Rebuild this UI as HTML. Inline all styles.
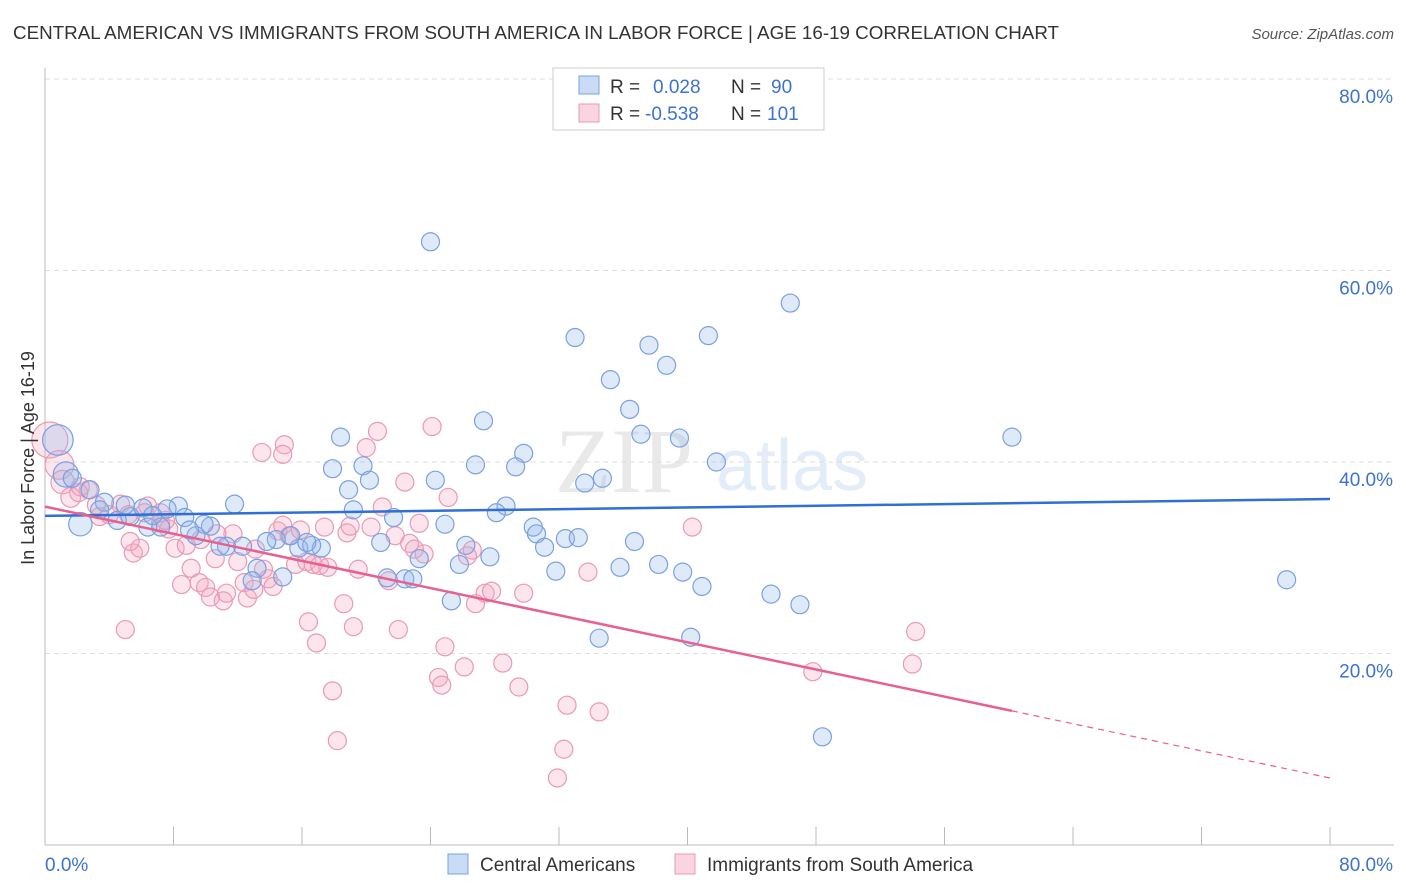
<!DOCTYPE html>
<html><head><meta charset="utf-8">
<style>
body{margin:0;background:#fff;font-family:"Liberation Sans",sans-serif;}
svg{display:block}
</style></head>
<body>
<svg id="chart" width="1406" height="892" xmlns="http://www.w3.org/2000/svg">
<text x="13" y="39" font-size="18.8" fill="#333" font-family="Liberation Sans, sans-serif">CENTRAL AMERICAN VS IMMIGRANTS FROM SOUTH AMERICA IN LABOR FORCE | AGE 16-19 CORRELATION CHART</text>
<text x="1394" y="39" font-size="15" fill="#555" text-anchor="end" font-style="italic">Source: ZipAtlas.com</text>
<g opacity="0.18">
<text x="555" y="492" font-size="92" font-family="Liberation Serif, serif" fill="#888">ZIP</text>
<text x="716" y="490" font-size="72" fill="#6b9be0">atlas</text>
</g>
<g id="grid"></g>
<g id="axes"></g>
<g id="marks"></g>
<g>
<rect x="553" y="68" width="271" height="62" fill="#fff" stroke="#ccc"/>
<rect x="579" y="76" width="20" height="18" fill="rgba(150,185,235,0.5)" stroke="#7aa0e0"/>
<rect x="579" y="104" width="20" height="18" fill="rgba(245,170,195,0.5)" stroke="#e89ab5"/>
<text x="610" y="93" font-size="19" fill="#333">R = </text><text x="653" y="93" font-size="19" fill="#3d73cc">0.028</text>
<text x="731" y="93" font-size="19" fill="#333">N = </text><text x="771" y="93" font-size="19" fill="#3d73cc">90</text>
<text x="610" y="120" font-size="19" fill="#333">R = </text><text x="645" y="120" font-size="19" fill="#3d73cc">-0.538</text>
<text x="731" y="120" font-size="19" fill="#333">N = </text><text x="767" y="120" font-size="19" fill="#3d73cc">101</text>
</g>
<g>
<rect x="448" y="854" width="20" height="20" fill="rgba(150,185,235,0.5)" stroke="#7aa0e0"/>
<text x="480" y="871" font-size="19" fill="#333">Central Americans</text>
<rect x="675" y="854" width="20" height="20" fill="rgba(245,170,195,0.5)" stroke="#e89ab5"/>
<text x="707" y="871" font-size="19" fill="#333">Immigrants from South America</text>
</g>
<text transform="translate(34,458) rotate(-90)" text-anchor="middle" font-size="18" fill="#333">In Labor Force | Age 16-19</text>
</svg>
<script>
const xTicks=[0,80];
const yTicks=[20,40,60,80];
const blueX=[0.8,1.3,2.2,24.0,46.4,33.0,41.3,37.6,38.7,35.2,36.4,27.3,37.1,18.4,39.5,60.2,29.8,41.8,26.8,19.8,29.3,17.9,24.3,20.2,34.7,33.6,18.9,28.7,11.8,8.3,28.1,19.2,21.7,24.9,30.4,30.6,32.4,33.2,36.7,26.2,27.7,31.1,20.9,15.8,17.2,16.6,15.3,14.4,13.8,12.3,11.3,10.3,9.9,8.7,9.4,7.2,6.4,5.3,4.5,3.7,2.8,3.4,7.6,6.1,9.0,23.3,25.8,31.8,35.8,38.2,39.7,40.9,21.3,22.4,22.9,14.8,13.2,12.9,25.3,45.2,47.0,34.5,40.2,48.4,77.3,6.7,10.9,16.3,5.0,1.7];
const blueY=[42.3,38.7,33.5,63.0,56.6,53.0,53.2,52.2,50.1,48.6,45.5,44.3,42.9,42.6,42.5,42.6,40.9,40.0,39.7,39.6,39.5,39.3,38.1,38.1,38.3,37.8,37.1,35.4,35.6,35.4,34.7,35.0,34.2,33.5,33.2,32.5,32.0,32.1,31.7,31.3,30.1,31.1,31.6,31.0,31.0,31.3,32.3,31.9,31.7,31.2,31.2,33.3,33.5,34.2,32.3,33.2,33.2,34.3,33.9,35.8,37.1,35.0,35.1,35.2,32.9,29.9,29.3,28.6,29.0,29.3,28.5,27.0,27.9,27.8,27.8,28.0,28.9,27.6,25.5,26.2,25.1,21.6,21.7,11.3,27.7,34.4,31.2,31.6,35.5,38.3];
const blueSize=[1.7,1.4,1.3];
const pinkX=[0.3,0.9,1.1,1.6,2.7,2.1,4.7,5.2,6.4,7.2,7.7,7.5,3.4,4.0,5.5,5.9,5.0,8.1,8.5,8.8,9.1,9.6,10.0,10.3,10.6,11.1,11.3,11.7,12.0,12.4,12.6,13.0,13.6,13.9,13.5,14.9,14.8,14.2,14.5,14.8,15.2,15.6,15.9,16.3,16.7,17.1,16.4,16.9,17.4,17.6,17.9,18.2,18.6,18.8,19.0,19.2,19.5,20.0,20.3,20.7,21.0,21.4,21.8,22.0,22.4,22.7,23.0,23.3,23.6,24.1,24.9,25.1,24.5,24.7,26.1,26.6,26.3,26.8,27.4,27.8,28.5,29.5,29.8,32.5,32.3,34.5,31.9,33.8,40.3,47.8,54.0,54.2,5.3,3.2,2.2,6.2,7.2,9.7,10.7,13.1];
const pinkY=[42.3,39.7,37.9,36.3,37.1,36.8,35.6,34.5,35.4,33.6,33.0,33.9,34.3,34.5,30.5,31.0,22.5,31.0,27.2,31.3,28.9,27.4,26.9,25.9,29.9,25.5,26.3,32.5,29.6,27.4,25.8,26.7,28.8,27.8,41.0,41.8,40.8,27.0,32.8,33.4,32.3,29.3,32.9,29.6,29.3,29.2,23.3,21.1,33.2,29.0,16.1,10.9,25.2,32.6,33.3,22.8,28.8,41.5,33.2,43.2,35.3,27.6,32.3,22.5,37.9,31.5,30.9,33.6,30.4,43.7,20.7,36.3,17.5,16.7,18.6,30.8,30.2,25.2,26.3,26.5,19.0,16.5,26.3,14.6,10.0,13.9,7.0,28.5,33.2,18.1,18.9,22.3,31.7,35.5,37.4,34.7,34.7,31.9,32.5,30.9];
const pinkSize=[2.0,1.6,1.3,1.1];

const NS="http://www.w3.org/2000/svg";
const X0=45,X1=1330,Y0=845,Y80=79;
const sx=v=>X0+(v/80)*(X1-X0);
const sy=v=>Y0-(v/80)*(Y0-Y80);
function mk(tag,attrs,parent){const e=document.createElementNS(NS,tag);for(const k in attrs)e.setAttribute(k,attrs[k]);parent.appendChild(e);return e;}
const grid=document.getElementById('grid'),axes=document.getElementById('axes'),marks=document.getElementById('marks');
yTicks.forEach(t=>{
  const l=mk('line',{x1:X0,x2:1394,y1:sy(t),y2:sy(t),stroke:'#ddd','stroke-dasharray':'5,4'},grid);
  
  
  const tx=mk('text',{x:1393,y:sy(t)+24,'text-anchor':'end','font-size':19,fill:'#3d73cc'},axes);
  tx.textContent=t.toFixed(1)+'%';
  
  
});
const ax=mk('line',{x1:X0,x2:X0,y1:68,y2:Y0,stroke:'#bbb'},axes);


const bx=mk('line',{x1:X0,x2:1394,y1:Y0,y2:Y0,stroke:'#bbb'},axes);


for(let i=0;i<=10;i++){const v=i*8;const tk=mk('line',{x1:sx(v),x2:sx(v),y1:Y0-18,y2:Y0,stroke:'#bbb'},axes);
  
  }
xTicks.forEach((t,i)=>{const tx=mk('text',{x:i==0?45:1393,y:871,'text-anchor':i==0?'start':'end','font-size':19,fill:'#3d73cc'},axes);
  tx.textContent=t.toFixed(1)+'%';
  
  });

function dots(xs,ys,sz,fill,stroke,name){
  xs.forEach((x,i)=>{const r=9*(sz[i]||1);
    const c=mk('circle',{cx:sx(x),cy:sy(ys[i]),r:r,fill:fill,stroke:stroke,'stroke-width':1.2},marks);
    
    });
}
dots(pinkX,pinkY,pinkSize,'rgba(245,170,195,0.3)','#e89ab5','pink-point');
dots(blueX,blueY,blueSize,'rgba(150,185,235,0.3)','#7aa0e0','blue-point');
function fit(xs,ys){const n=xs.length;let mx=0,my=0;xs.forEach((x,i)=>{mx+=x;my+=ys[i]});mx/=n;my/=n;let sxy=0,sxx=0;xs.forEach((x,i)=>{sxy+=(x-mx)*(ys[i]-my);sxx+=(x-mx)*(x-mx)});const b=sxy/sxx;return [my-b*mx,b];}
const [ba,bb]=fit(blueX,blueY);
const bl=mk('line',{x1:sx(0),y1:sy(ba),x2:sx(80),y2:sy(ba+bb*80),stroke:'#2f6fd6','stroke-width':2.5},marks);


const [pa,pb]=fit(pinkX,pinkY);
const pmax=Math.max(...pinkX)+6;
const pl=mk('line',{x1:sx(0),y1:sy(pa),x2:sx(pmax),y2:sy(pa+pb*pmax),stroke:'#e8608f','stroke-width':2.5},marks);


const pd=mk('line',{x1:sx(pmax),y1:sy(pa+pb*pmax),x2:sx(80),y2:sy(pa+pb*80),stroke:'#e8608f','stroke-width':1.2,'stroke-dasharray':'6,5'},marks);


</script>
</body></html>
